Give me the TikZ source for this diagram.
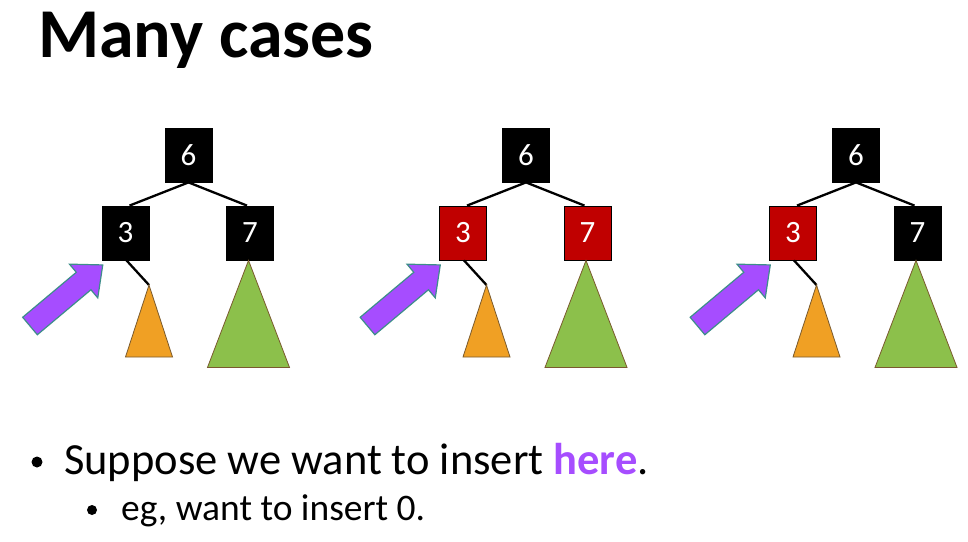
\documentclass[tikz,border=0pt]{standalone}
\usepackage{fontspec}
\setmainfont{Carlito}
\usetikzlibrary{calc}

\definecolor{rbred}{HTML}{C00000}
\definecolor{arrowfill}{HTML}{A64DFF}
\definecolor{arrowedge}{HTML}{3E8E8A}
\definecolor{subA}{HTML}{F0A024}
\definecolor{subB}{HTML}{8CC04B}
\definecolor{subedge}{HTML}{7A5A2E}
\definecolor{herecol}{HTML}{A64DFF}

\tikzset{
  key/.style={draw=black, line width=0.8pt, minimum width=47pt, minimum height=54pt,
    inner sep=0pt, text=white, font=\fontsize{31}{31}\selectfont},
  blackkey/.style={key, fill=black},
  redkey/.style={key, fill=rbred},
  treeedge/.style={line width=2.3pt},
  smalltree/.style={fill=subA, draw=subedge, line width=0.8pt},
  bigtree/.style={fill=subB, draw=subedge, line width=0.8pt},
  insertarrow/.style={fill=arrowfill, draw=arrowedge, line width=1.2pt, line join=miter},
  dot/.style={circle, fill=black, inner sep=0pt, minimum size=#1},
}

% One red-black case: #1 name prefix, #2 x of the root, #3/#4 styles of keys 3 and 7
\newcommand\rbcase[4]{%
  \node[blackkey] (#1root)  at (#2,155)      {6};
  \node[#3]       (#1left)  at (#2-63,233)   {3};
  \node[#4]       (#1right) at (#2+61.5,233) {7};
  \coordinate (#1sa) at (#2-39.5,285);
  \coordinate (#1sb) at ([xshift=-1.5pt]#1right.south);
  \draw[treeedge] (#1root.south) -- ([xshift=4pt]#1left.north);
  \draw[treeedge] (#1root.south) -- ([xshift=-3pt]#1right.north);
  \draw[treeedge] ([xshift=1pt]#1left.south) -- (#1sa);
  \draw[smalltree] (#1sa) -- ($(#1sa)+(-23.5,72)$) -- ($(#1sa)+(23.5,72)$) -- cycle;
  \draw[bigtree] (#1sb) -- ($(#1sb)+(-41,107)$) -- ($(#1sb)+(41,107)$) -- cycle;
  \draw[insertarrow, shift={(#2-158.5,326)}, rotate=40]
    (0pt,-11.4pt) -- (70pt,-11.4pt) -- (70pt,-22pt) -- (95pt,0pt)
    -- (70pt,22pt) -- (70pt,11.4pt) -- (0pt,11.4pt) -- cycle;
}

\begin{document}
\begin{tikzpicture}[x=1pt, y=-1pt]
  \useasboundingbox (0,0) rectangle (968,541);

  \node[anchor=base west, inner sep=0pt, font=\fontsize{70}{70}\selectfont\bfseries]
    (title) at (38,57) {Many cases};

  \rbcase{c1}{188.5}{blackkey}{blackkey}
  \rbcase{c2}{526}{redkey}{redkey}
  \rbcase{c3}{856}{redkey}{blackkey}

  \node[dot=11pt] (bullet1) at (37,462) {};
  \node[anchor=base west, inner sep=0pt, font=\fontsize{44.5}{44.5}\selectfont]
    (line1) at (64,474) {Suppose we want to insert \textcolor{herecol}{\bfseries here}.};
  \node[dot=10pt] (bullet2) at (92,510) {};
  \node[anchor=base west, inner sep=0pt, font=\fontsize{37.5}{37.5}\selectfont]
    (line2) at (121,520) {eg, want to insert 0.};
\end{tikzpicture}
\end{document}
